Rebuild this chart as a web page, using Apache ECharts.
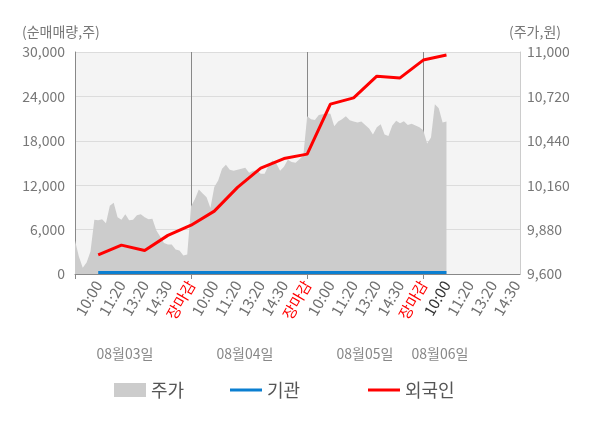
<!DOCTYPE html>
<html>
<head>
<meta charset="UTF-8">
<title></title>
<script src="https://cdn.jsdelivr.net/npm/echarts@6/dist/echarts.min.js"></script>
<style>
  * { margin: 0; padding: 0; }
  #app { width: 600px; height: 428px; background: #fff; }
</style>
</head>
<body>
<div id="app"></div>
<script>
// tick labels on the time axis, one every 6 slots (30 slots per day)
var timeLabels = ['10:00', '11:20', '13:20', '14:30', '장마감',
                  '10:00', '11:20', '13:20', '14:30', '장마감',
                  '10:00', '11:20', '13:20', '14:30', '장마감',
                  '10:00', '11:20', '13:20', '14:30'];
var dateLabels = ['08월03일', '08월04일', '08월05일', '08월06일'];

// 주가 (원), one value per slot
var priceDay1 = [9812, 9710, 9640, 9672, 9742, 9942, 9939, 9946, 9920, 10030,
                 10050, 9958, 9942, 9977, 9939, 9942, 9971, 9977, 9958, 9946,
                 9949, 9876, 9837, 9796, 9786, 9786, 9755, 9748, 9716, 9723];
var priceDay2 = [10028, 10073, 10133, 10108, 10084, 10016, 10149, 10189, 10264, 10289,
                 10257, 10251, 10257, 10264, 10270, 10238, 10251, 10253, 10232, 10232,
                 10285, 10315, 10299, 10251, 10276, 10321, 10306, 10302, 10324, 10346];
var priceDay3 = [10595, 10576, 10571, 10603, 10607, 10614, 10611, 10531, 10561, 10576,
                 10595, 10569, 10561, 10556, 10561, 10539, 10518, 10480, 10525, 10544,
                 10480, 10471, 10537, 10566, 10550, 10563, 10539, 10547, 10537, 10525];
var priceDay4 = [10506, 10423, 10461, 10671, 10646, 10556, 10561];

// 누적 순매매량 (주), sampled at each time label
var foreign = [2590, 3900, 3180, 5220, 6590, 8500, 11700, 14300, 15600, 16200,
               22950, 23800, 26730, 26500, 28910, 29590];
var institution = [200, 200, 200, 200, 200, 200, 200, 200, 200, 200,
                   200, 200, 200, 200, 200, 200];

var STEP = 6, SLOTS = 116;
var categories = [];
for (var i = 0; i < SLOTS; i++) categories.push(String(i));

var labelAt = {};
timeLabels.forEach(function (t, k) { labelAt[(k + 1) * STEP] = t; });

var price = priceDay1.concat(priceDay2, priceDay3, priceDay4);

function onLabels(arr) {
  var out = [];
  for (var i = 0; i < SLOTS; i++) out.push(null);
  arr.forEach(function (v, k) { out[(k + 1) * STEP] = v; });
  return out;
}

var font = "'Noto Sans CJK KR', 'Noto Sans', sans-serif";
var chart = echarts.init(document.getElementById('app'));

var legendText = { fontSize: 18, color: '#555', fontFamily: font };

var option = {
  animation: false,
  textStyle: { fontFamily: font },
  grid: {
    left: 75, right: 80, top: 52, bottom: 154,
    show: true, backgroundColor: '#f4f4f4', borderWidth: 0
  },
  legend: [
    { data: [{ name: '주가', icon: 'rect' }], left: 109, top: 376, itemWidth: 32, itemHeight: 14, textStyle: legendText },
    { data: [{ name: '기관', icon: 'rect' }], left: 225, top: 376, itemWidth: 32, itemHeight: 3, textStyle: legendText },
    { data: [{ name: '외국인', icon: 'rect' }], left: 363, top: 376, itemWidth: 32, itemHeight: 3, textStyle: legendText }
  ],
  graphic: [
    { type: 'text', left: 22, top: 25, style: { text: '(순매매량,주)', fill: '#777', font: '14px ' + font } },
    { type: 'text', left: 509, top: 25, style: { text: '(주가,원)', fill: '#777', font: '14px ' + font } }
  ].concat(dateLabels.map(function (d, k) {
    var cx = [125, 245, 365, 440][k];
    return { type: 'text', x: cx, y: 354,
      style: { text: d, fill: '#888', font: '14px ' + font, textAlign: 'center', textVerticalAlign: 'middle' } };
  })),
  xAxis: {
    type: 'category',
    data: categories,
    boundaryGap: false,
    axisLine: { lineStyle: { color: '#888' } },
    axisTick: {
      show: true, length: 5, lineStyle: { color: '#888' },
      interval: function (idx) { return idx % 30 === 0; }
    },
    splitLine: {
      show: true, lineStyle: { color: '#888', width: 1 },
      interval: function (idx) { return idx % 30 === 0 && idx > 0; }
    },
    axisLabel: {
      rotate: 60, fontSize: 15, margin: 8, fontFamily: font,
      interval: function (idx) { return labelAt[idx] !== undefined; },
      formatter: function (v) { return labelAt[parseInt(v, 10)] || ''; },
      color: function (v) {
        var i = parseInt(v, 10);
        if (labelAt[i] === '장마감') return '#ff0000';
        if (i === 96) return '#333';
        return '#707070';
      }
    }
  },
  yAxis: [
    {
      type: 'value', min: 0, max: 30000, interval: 6000,
      axisLine: { show: true, lineStyle: { color: '#888' } },
      axisTick: { show: false },
      splitLine: { lineStyle: { color: '#dcdcdc' } },
      axisLabel: { fontSize: 14, color: '#777', margin: 10, fontFamily: font }
    },
    {
      type: 'value', min: 9600, max: 11000, interval: 280,
      axisLine: { show: true, lineStyle: { color: '#ccc' } },
      axisTick: { show: false },
      splitLine: { show: false },
      axisLabel: { fontSize: 14, color: '#777', margin: 7, fontFamily: font }
    }
  ],
  series: [
    {
      name: '주가', type: 'line', yAxisIndex: 1, data: price,
      symbol: 'none', lineStyle: { width: 0 },
      itemStyle: { color: '#cccccc' },
      areaStyle: { color: '#cccccc', opacity: 1 }
    },
    {
      name: '기관', type: 'line', yAxisIndex: 0, data: onLabels(institution),
      connectNulls: true, symbol: 'none',
      itemStyle: { color: '#0b7fd1' }, lineStyle: { color: '#0b7fd1', width: 3 }
    },
    {
      name: '외국인', type: 'line', yAxisIndex: 0, data: onLabels(foreign),
      connectNulls: true, symbol: 'none',
      itemStyle: { color: '#ff0000' }, lineStyle: { color: '#ff0000', width: 3 }
    }
  ]
};

chart.setOption(option);
</script>
</body>
</html>
